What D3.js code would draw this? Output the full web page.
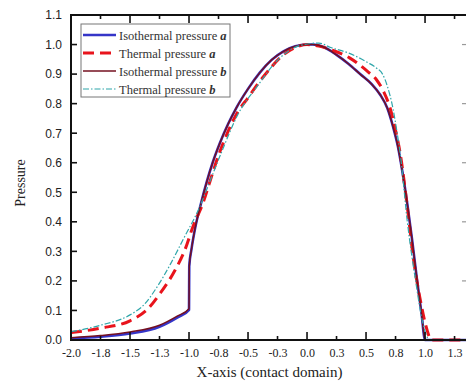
<!DOCTYPE html>
<html>
<head>
<meta charset="utf-8">
<script src="https://cdn.jsdelivr.net/npm/d3@7/dist/d3.min.js"></script>
<style>
  body { margin: 0; background: #fff; }
  svg { display: block; }
</style>
</head>
<body>
<div id="chart"></div>
<script>
// values
const isoA_x = [-2.0, -1.75, -1.5, -1.25, -1.1, -1.0, -0.998, -0.98, -0.95, -0.9, -0.85, -0.8, -0.74, -0.67, -0.6, -0.5, -0.4, -0.3, -0.2, -0.1, 0.0, 0.05, 0.15, 0.25, 0.35, 0.45, 0.55, 0.62, 0.68, 0.73, 0.77, 0.81, 0.85, 0.89, 0.93, 0.97, 1.0, 1.36];
const isoA_y = [0.005, 0.011, 0.022, 0.045, 0.076, 0.102, 0.25, 0.305, 0.375, 0.46, 0.535, 0.60, 0.665, 0.73, 0.785, 0.85, 0.905, 0.948, 0.977, 0.994, 1.0, 1.0, 0.99, 0.965, 0.935, 0.90, 0.865, 0.83, 0.785, 0.72, 0.655, 0.565, 0.46, 0.34, 0.21, 0.09, 0.0, 0.0];

const isoB_x = [-2.0, -1.75, -1.5, -1.25, -1.1, -1.0, -0.998, -0.98, -0.95, -0.9, -0.85, -0.8, -0.74, -0.67, -0.6, -0.5, -0.4, -0.3, -0.2, -0.1, 0.0, 0.05, 0.15, 0.25, 0.35, 0.45, 0.55, 0.62, 0.68, 0.73, 0.77, 0.81, 0.85, 0.89, 0.93, 0.97, 1.0, 1.36];
const isoB_y = [0.008, 0.015, 0.027, 0.05, 0.081, 0.106, 0.25, 0.305, 0.375, 0.46, 0.535, 0.60, 0.665, 0.73, 0.785, 0.85, 0.905, 0.948, 0.977, 0.994, 1.0, 1.0, 0.99, 0.965, 0.935, 0.90, 0.865, 0.83, 0.785, 0.72, 0.655, 0.565, 0.46, 0.34, 0.21, 0.09, 0.0, 0.0];

const thA_x = [-2.0, -1.75, -1.5, -1.35, -1.25, -1.12, -1.03, -0.97, -0.88, -0.82, -0.75, -0.67, -0.59, -0.5, -0.42, -0.32, -0.23, -0.1, 0.0, 0.1, 0.22, 0.36, 0.51, 0.59, 0.65, 0.7, 0.75, 0.79, 0.85, 0.9, 0.96, 1.02, 1.05, 1.36];
const thA_y = [0.025, 0.04, 0.065, 0.105, 0.155, 0.235, 0.31, 0.38, 0.465, 0.54, 0.625, 0.705, 0.77, 0.82, 0.865, 0.915, 0.955, 0.99, 1.0, 0.995, 0.98, 0.955, 0.91, 0.88, 0.84, 0.79, 0.71, 0.63, 0.45, 0.28, 0.135, 0.03, 0.0, 0.0];

const thB_x = [-2.0, -1.75, -1.5, -1.38, -1.27, -1.16, -1.05, -0.91, -0.82, -0.72, -0.59, -0.42, -0.23, -0.05, 0.1, 0.2, 0.36, 0.51, 0.59, 0.64, 0.68, 0.73, 0.76, 0.79, 0.85, 0.92, 0.98, 1.04, 1.36];
const thB_y = [0.028, 0.05, 0.085, 0.12, 0.18, 0.255, 0.34, 0.45, 0.54, 0.64, 0.76, 0.86, 0.955, 0.998, 1.005, 0.99, 0.97, 0.94, 0.92, 0.90, 0.86, 0.78, 0.71, 0.63, 0.40, 0.20, 0.06, 0.0, 0.0];

const xTicks = d3.range(-2.0, 1.26, 0.25);
const yTicks = d3.range(0, 1.101, 0.1);
const seriesNames = ["Isothermal pressure ", "Thermal pressure ", "Isothermal pressure ", "Thermal pressure "];
const seriesTags = ["a", "a", "b", "b"];

const width = 466, height = 387;
const mLeft = 71, mRight = 468, mTop = 15, mBottom = 340;

const x = d3.scaleLinear().domain([-2, 1.364]).range([mLeft, mRight]);
const y = d3.scaleLinear().domain([0, 1.1]).range([mBottom, mTop]);

const svg = d3.select("#chart").append("svg")
  .attr("width", width)
  .attr("height", height);

const series = [
  { xs: isoA_x, ys: isoA_y, color: "#3535c8", w: 2.6, dash: null },
  { xs: thA_x, ys: thA_y, color: "#e8141c", w: 3, dash: "11,6" },
  { xs: isoB_x, ys: isoB_y, color: "#741020", w: 1.5, dash: null },
  { xs: thB_x, ys: thB_y, color: "#2fa6aa", w: 1.2, dash: "6,2,1.5,2" }
];

const line = d3.line()
  .x(d => x(d[0]))
  .y(d => y(d[1]))
  .curve(d3.curveMonotoneX);

const plot = svg.append("g");
series.forEach(s => {
  plot.append("path")
    .datum(s.xs.map((v, i) => [v, s.ys[i]]))
    .attr("d", line)
    .attr("fill", "none")
    .attr("stroke", s.color)
    .attr("stroke-width", s.w)
    .attr("stroke-dasharray", s.dash)
    .attr("stroke-linejoin", "round");
});

const fmt = v => v.toFixed(1);
const isMajor = v => Math.abs(v * 2 - Math.round(v * 2)) < 1e-6;

// bottom axis
const xAxis = svg.append("g")
  .attr("transform", `translate(0,${mBottom})`)
  .call(d3.axisBottom(x).tickValues(xTicks).tickSize(0).tickFormat(fmt));
xAxis.select(".domain").remove();
xAxis.selectAll("text")
  .attr("dy", "0")
  .attr("y", 17)
  .style("font-family", "Liberation Serif, serif")
  .style("font-size", "12px")
  .style("fill", "#222");

// inward ticks, bottom and top
xTicks.forEach(v => {
  const len = isMajor(v) ? 8 : 4;
  svg.append("line").attr("x1", x(v)).attr("x2", x(v))
    .attr("y1", mBottom).attr("y2", mBottom - len)
    .attr("stroke", "#111").attr("stroke-width", 1.6);
  svg.append("line").attr("x1", x(v)).attr("x2", x(v))
    .attr("y1", mTop).attr("y2", mTop + len)
    .attr("stroke", "#111").attr("stroke-width", 1.6);
});

// left axis
const yAxis = svg.append("g")
  .attr("transform", `translate(${mLeft},0)`)
  .call(d3.axisLeft(y).tickValues(yTicks).tickSize(0).tickPadding(9).tickFormat(fmt));
yAxis.select(".domain").remove();
yAxis.selectAll("text")
  .style("font-family", "Liberation Sans, Arial, sans-serif")
  .style("font-size", "12px")
  .style("fill", "#222");

yTicks.forEach(v => {
  svg.append("line").attr("x1", mLeft).attr("x2", mLeft + 6)
    .attr("y1", y(v)).attr("y2", y(v))
    .attr("stroke", "#111").attr("stroke-width", 1.6);
});
d3.range(0, 1.101, 0.2).forEach(v => {
  svg.append("line").attr("x1", mRight).attr("x2", mRight - 6)
    .attr("y1", y(v)).attr("y2", y(v))
    .attr("stroke", "#999").attr("stroke-width", 1.2);
});

// frame
svg.append("rect")
  .attr("x", mLeft).attr("y", mTop)
  .attr("width", mRight - mLeft).attr("height", mBottom - mTop)
  .attr("fill", "none")
  .attr("stroke", "#111")
  .attr("stroke-width", 2);

// axis titles
svg.append("text")
  .attr("x", (mLeft + mRight) / 2)
  .attr("y", 377)
  .attr("text-anchor", "middle")
  .style("font-family", "Liberation Serif, serif")
  .style("font-size", "15px")
  .style("fill", "#222")
  .text("X-axis (contact domain)");

svg.append("text")
  .attr("transform", "translate(25,183) rotate(-90)")
  .attr("text-anchor", "middle")
  .style("font-family", "Liberation Serif, serif")
  .style("font-size", "14px")
  .style("fill", "#222")
  .text("Pressure");

// legend
const legend = svg.append("g");
legend.append("rect")
  .attr("x", 81).attr("y", 24)
  .attr("width", 149).attr("height", 73)
  .attr("fill", "#fff")
  .attr("stroke", "#777")
  .attr("stroke-width", 1);

series.forEach((s, i) => {
  const ly = 35 + i * 18;
  legend.append("line")
    .attr("x1", 83).attr("x2", 116)
    .attr("y1", ly).attr("y2", ly)
    .attr("stroke", s.color)
    .attr("stroke-width", s.w)
    .attr("stroke-dasharray", s.dash);
  const t = legend.append("text")
    .attr("x", 119).attr("y", ly + 4.5)
    .style("font-family", "Liberation Serif, serif")
    .style("font-size", "12.5px")
    .style("fill", "#333");
  t.append("tspan").text(seriesNames[i]);
  t.append("tspan").text(seriesTags[i])
    .style("font-weight", "bold").style("font-style", "italic");
});
</script>
</body>
</html>
